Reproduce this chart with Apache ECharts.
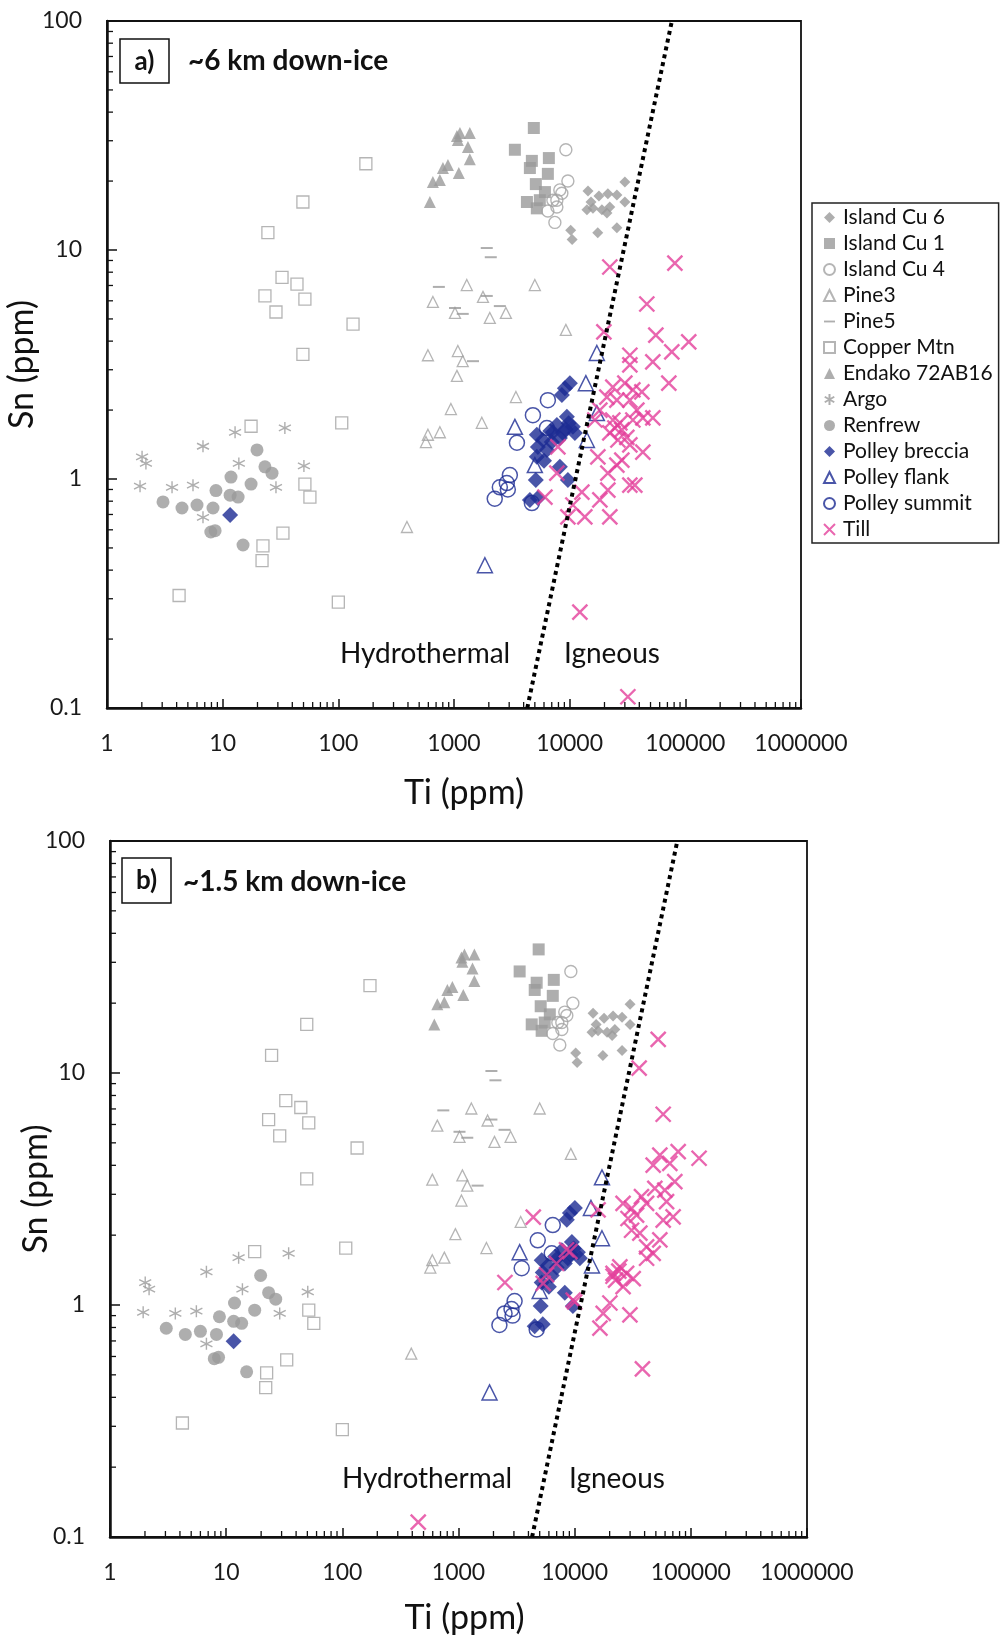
<!DOCTYPE html>
<html>
<head>
<meta charset="utf-8">
<script src="https://cdn.jsdelivr.net/npm/echarts@6/dist/echarts.min.js"></script>
<style>
  html, body { margin: 0; padding: 0; background: #fff; }
  #chart { width: 1003px; height: 1639px; }
</style>
</head>
<body>
<div id="chart"></div>
<script>
// Ti (ppm), Sn (ppm) pairs
const islandCu6 = [[14400,18.1],[17900,17.2],[21400,17.6],[25600,17.4],[30000,19.8],[30000,16.2],[15300,16.2],[15900,15.2],[19000,15.0],[22200,15.4],[17500,11.9],[25600,12.5],[10200,12.2],[10500,11.1],[14100,15.0],[21000,14.5]]
const islandCu1 = [[4900,34.1],[3360,27.4],[4710,24.5],[6610,25.2],[6480,21.5],[5100,19.4],[6110,17.9],[5520,16.5],[4270,16.2],[5200,15.2],[4530,22.8]]
const islandCu4 = [[9270,27.4],[9650,20.0],[8220,18.3],[8560,17.7],[7750,16.5],[7160,16.5],[7750,15.4],[6480,14.8],[7450,13.2]]
const pine3 = [[1290,7.03],[657,5.93],[1780,6.24],[1020,5.31],[2040,5.05],[2810,5.31],[5000,7.03],[9270,4.48],[595,3.47],[1080,3.62],[1190,3.27],[1060,2.82],[3430,2.28],[940,2.02],[1740,1.76],[755,1.60],[595,1.56],[572,1.45],[392,0.617]]
const pine5 = [[1920,10.2],[2080,9.3],[740,6.9],[1020,5.58],[1190,5.26],[1920,6.3],[2490,5.69],[1460,3.27]]
const copperMtn = [[173,23.8],[49.4,16.2],[24.6,11.9],[32.6,7.6],[43.9,7.1],[23.2,6.3],[51.4,6.1],[28.9,5.36],[134,4.75],[49.4,3.5],[17.6,1.70],[107,1.76],[51.4,0.95],[56.8,0.834],[33.2,0.58],[22.3,0.51],[21.9,0.44],[4.2,0.31],[100,0.29]]
const endako = [[1125,32.4],[1370,32.4],[1080,30.2],[1320,28.2],[1370,24.9],[886,23.5],[802,22.8],[1100,21.7],[657,19.8],[755,20.2],[619,16.2],[1060,31.5]]
const argo = [[2.01,1.25],[2.17,1.17],[1.93,0.93],[3.65,0.92],[5.54,0.94],[6.76,1.39],[12.8,1.60],[13.8,1.17],[34.5,1.67],[50.4,1.14],[28.9,0.92],[6.76,0.68]]
const renfrew = [[19.8,1.34],[23.2,1.13],[26.7,1.06],[11.8,1.02],[17.6,0.95],[8.75,0.89],[11.6,0.85],[13.6,0.834],[3.05,0.794],[4.45,0.747],[6.0,0.77],[8.25,0.747],[7.9,0.587],[8.6,0.595],[15.0,0.515]]
const polleyBreccia = [[11.6,0.697],[10040,2.62],[9090,2.49],[8560,2.33],[9460,1.87],[7750,1.72],[10660,1.69],[7160,1.60],[8730,1.59],[5200,1.56],[11090,1.59],[5870,1.48],[8230,1.51],[5310,1.38],[6350,1.34],[5200,1.25],[8230,1.13],[9650,0.99],[5100,0.99],[4530,0.81],[5310,0.826],[6800,1.62],[9800,1.75],[7000,1.45],[9200,1.65],[6000,1.2]]
const polleyFlank = [[17180,3.55],[13800,2.62],[17180,1.94],[3360,1.69],[14090,1.48],[5000,1.15],[1850,0.42]]
const polleySummit = [[6480,2.21],[4810,1.90],[6350,1.67],[3500,1.44],[3040,1.04],[2860,0.96],[2920,0.90],[2250,0.82],[4710,0.785],[2490,0.92]]

// till, panel a (~6 km down-ice)
const tillA = [[22240,8.43],[81200,8.77],[46450,5.81],[19760,4.39],[55600,4.25],[76400,3.59],[107000,3.97],[33140,3.47],[33140,3.15],[52360,3.25],[72000,2.62],[23620,2.52],[30000,2.62],[35190,2.45],[42100,2.40],[20970,2.28],[25590,2.21],[33140,2.21],[18240,2.00],[38100,2.00],[16510,1.81],[23620,1.81],[27160,1.76],[35190,1.81],[42930,1.85],[52360,1.85],[24590,1.67],[28260,1.64],[22240,1.59],[31200,1.52],[26120,1.48],[7910,1.38],[33140,1.41],[17530,1.25],[42930,1.31],[28260,1.21],[25590,1.15],[7750,1.06],[21390,1.06],[33140,0.94],[36600,0.94],[12750,0.877],[6110,0.834],[18240,0.81],[21390,0.895],[10660,0.77],[9650,0.683],[13520,0.683],[22240,0.683],[12250,0.262],[31850,0.112]]
// till, panel b (~1.5 km down-ice)
const tillB = [[52360,13.97],[35900,10.5],[57800,6.64],[117800,4.29],[77800,4.58],[54100,4.43],[47400,4.01],[65900,4.08],[72800,3.40],[59700,3.13],[49000,3.18],[37600,2.93],[26100,2.74],[30900,2.61],[41600,2.74],[61800,2.79],[70400,2.40],[57800,2.32],[28800,2.36],[34100,2.44],[30900,2.10],[36400,2.04],[54100,1.91],[41600,1.78],[47400,1.67],[41600,1.59],[24500,1.46],[21400,1.37],[28000,1.37],[31900,1.30],[26100,1.20],[20100,1.02],[17600,0.92],[29900,0.906],[16500,0.795],[9100,1.70],[10000,1.03],[15900,2.57],[4400,2.39],[2510,1.25],[8510,1.73],[6980,1.51],[5730,1.35],[5360,1.24],[9710,1.05],[21400,1.33],[22500,1.28],[24000,1.40],[38300,0.53],[450,0.116]]

// hydrothermal / igneous boundary (dotted line ends)
const boundary = [[4300,0.1],[76500,100]]

const xRange = [1, 1000000]
const yRange = [0.1, 100]
const xTicks = [1,10,100,1000,10000,100000,1000000]
const xTickLabels = ['1','10','100','1000','10000','100000','1000000']
const yTicks = [0.1,1,10,100]
const yTickLabels = ['0.1','1','10','100']
const minorSteps = [2,3,4,5,6,7,8,9]
const xDecades = [1,10,100,1000,10000,100000]
const yDecades = [0.1,1,10]

const FONT = 'Lato'
const GRAY = '#9a9a9a'
const LGRAY = '#a3a3a3'
const BLUE = '#1c2b92'
const PINK = '#e4409b'

const ASTER = 'path://M5,0V10M0.67,2.5L9.33,7.5M0.67,7.5L9.33,2.5'
const CROSS = 'path://M0,0L10,10M10,0L0,10'
const DASH = 'path://M0,0h12v2h-12z'

const styles = [
  {name: 'Island Cu 6', data: islandCu6, symbol: 'diamond', size: 11, itemStyle: {color: GRAY}},
  {name: 'Island Cu 1', data: islandCu1, symbol: 'rect', size: 12, itemStyle: {color: GRAY}},
  {name: 'Island Cu 4', data: islandCu4, symbol: 'circle', size: 12, itemStyle: {color: 'rgba(255,255,255,0)', borderColor: LGRAY, borderWidth: 1.4}},
  {name: 'Pine3', data: pine3, symbol: 'triangle', size: 11, itemStyle: {color: 'rgba(255,255,255,0)', borderColor: LGRAY, borderWidth: 1.3}},
  {name: 'Pine5', data: pine5, symbol: DASH, size: [12, 2], itemStyle: {color: GRAY}},
  {name: 'Copper Mtn', data: copperMtn, symbol: 'rect', size: 12, itemStyle: {color: 'rgba(255,255,255,0)', borderColor: LGRAY, borderWidth: 1.3}},
  {name: 'Endako 72AB16', data: endako, symbol: 'triangle', size: 12, itemStyle: {color: GRAY}},
  {name: 'Argo', data: argo, symbol: ASTER, size: 12, itemStyle: {color: 'rgba(255,255,255,0)', borderColor: GRAY, borderWidth: 1.4}},
  {name: 'Renfrew', data: renfrew, symbol: 'circle', size: 13, itemStyle: {color: GRAY}},
  {name: 'Polley breccia', data: polleyBreccia, symbol: 'diamond', size: 16, itemStyle: {color: BLUE}},
  {name: 'Polley flank', data: polleyFlank, symbol: 'triangle', size: 15, itemStyle: {color: 'rgba(255,255,255,0)', borderColor: BLUE, borderWidth: 1.5}},
  {name: 'Polley summit', data: polleySummit, symbol: 'circle', size: 15, itemStyle: {color: 'rgba(255,255,255,0)', borderColor: BLUE, borderWidth: 1.5}},
  {name: 'Till', data: null, symbol: CROSS, size: 15, itemStyle: {color: 'rgba(255,255,255,0)', borderColor: PINK, borderWidth: 2.4}}
]
const tills = [tillA, tillB]

function tickLabel(labels, ticks) {
  return function (v) {
    for (let i = 0; i < ticks.length; i++) {
      if (Math.abs(Math.log10(v) - Math.log10(ticks[i])) < 1e-6) return labels[i]
    }
    return ''
  }
}

function minorTickSeries(gi, dir) {
  const vals = []
  const decades = dir === 'x' ? xDecades : yDecades
  decades.forEach(d => minorSteps.forEach(k => vals.push(d * k)))
  return {
    type: 'custom', xAxisIndex: gi, yAxisIndex: gi, silent: true, clip: false, z: 6,
    data: vals.map(v => dir === 'x' ? [v, yRange[0]] : [xRange[0], v]),
    renderItem: function (params, api) {
      const p = api.coord([api.value(0), api.value(1)])
      return {
        type: 'line',
        shape: dir === 'x'
          ? {x1: p[0], y1: p[1], x2: p[0], y2: p[1] - 6}
          : {x1: p[0], y1: p[1], x2: p[0] + 6, y2: p[1]},
        style: {stroke: '#111', lineWidth: 1.3}
      }
    }
  }
}

const grids = [
  {left: 107, top: 21, width: 694, height: 687},
  {left: 110, top: 841, width: 697, height: 696}
]
const xNameGap = [68, 64]
const xNamePad = [[0,0,0,20], [0,0,0,12]]
const yNameGap = [68, 57]

const xAxes = grids.map((g, i) => ({
  type: 'log', logBase: 10, gridIndex: i, min: xRange[0], max: xRange[1],
  name: 'Ti (ppm)', nameLocation: 'middle', nameGap: xNameGap[i], nameMoveOverlap: false,
  nameTextStyle: {fontFamily: FONT, fontSize: 34, color: '#111', padding: xNamePad[i]},
  axisLine: {show: true, onZero: false, lineStyle: {color: '#111', width: 2.5}},
  axisTick: {show: true, inside: true, length: 9, lineStyle: {color: '#111', width: 1.5}},
  axisLabel: {margin: 24, fontFamily: FONT, fontSize: 23, color: '#1a1a1a', formatter: tickLabel(xTickLabels, xTicks)},
  splitLine: {show: false}
}))
const yAxes = grids.map((g, i) => ({
  type: 'log', logBase: 10, gridIndex: i, min: yRange[0], max: yRange[1],
  name: 'Sn (ppm)', nameLocation: 'middle', nameGap: yNameGap[i], nameMoveOverlap: false,
  nameTextStyle: {fontFamily: FONT, fontSize: 34, color: '#111'},
  axisLine: {show: true, onZero: false, lineStyle: {color: '#111', width: 2.5}},
  axisTick: {show: true, inside: true, length: 10, lineStyle: {color: '#111', width: 1.5}},
  axisLabel: {margin: 25, fontFamily: FONT, fontSize: 23, color: '#1a1a1a', formatter: tickLabel(yTickLabels, yTicks)},
  splitLine: {show: false}
}))

const series = []
grids.forEach((g, i) => {
  styles.forEach(s => {
    series.push({
      type: 'scatter', name: s.name, xAxisIndex: i, yAxisIndex: i,
      data: s.data || tills[i], symbol: s.symbol, symbolSize: s.size,
      itemStyle: s.itemStyle, silent: true, z: 3
    })
  })
  series.push({
    type: 'line', xAxisIndex: i, yAxisIndex: i, data: boundary, symbol: 'none', silent: true, z: 8,
    lineStyle: {color: '#000', width: 4, type: [4, 4], cap: 'butt'}
  })
  series.push(minorTickSeries(i, 'x'))
  series.push(minorTickSeries(i, 'y'))
})

function label(x, y, text, size, bold, align) {
  return {type: 'text', x: x, y: y, z: 20, style: {text: text, fontFamily: FONT, fontSize: size, fontWeight: bold ? 'bold' : 'normal', fill: '#111', align: align || 'left', verticalAlign: 'middle'}}
}

const chart = echarts.init(document.getElementById('chart'), null, {renderer: 'canvas'})
chart.setOption({
  animation: false,
  backgroundColor: '#fff',
  grid: grids.map(g => Object.assign({show: true, containLabel: false, outerBoundsMode: 'none', borderColor: '#111', borderWidth: 1.8, backgroundColor: 'transparent'}, g)),
  xAxis: xAxes,
  yAxis: yAxes,
  legend: {
    orient: 'vertical', left: 812, top: 203,
    padding: [4, 6, 3, 11],
    itemWidth: 11, itemHeight: 11, itemGap: 5,
    backgroundColor: '#fff', borderColor: '#222', borderWidth: 1.5,
    textStyle: {fontFamily: FONT, fontSize: 21, lineHeight: 20, color: '#111', padding: [0, 0, 0, 3]},
    data: styles.map(s => s.name),
    selectedMode: false
  },
  series: series,
  graphic: [
    {type: 'rect', shape: {x: 120, y: 39, width: 49, height: 44}, style: {fill: '#fff', stroke: '#111', lineWidth: 1.5}, z: 19},
    label(144.5, 62, 'a)', 26, true, 'center'),
    label(188, 61, '~6 km down-ice', 28, true),
    label(340, 654, 'Hydrothermal', 28, false),
    label(564, 654, 'Igneous', 28, false),
    {type: 'rect', shape: {x: 122, y: 858, width: 49, height: 45}, style: {fill: '#fff', stroke: '#111', lineWidth: 1.5}, z: 19},
    label(146.5, 881, 'b)', 26, true, 'center'),
    label(183, 882, '~1.5 km down-ice', 28, true),
    label(342, 1479, 'Hydrothermal', 28, false),
    label(569, 1479, 'Igneous', 28, false)
  ]
})
</script>
</body>
</html>
